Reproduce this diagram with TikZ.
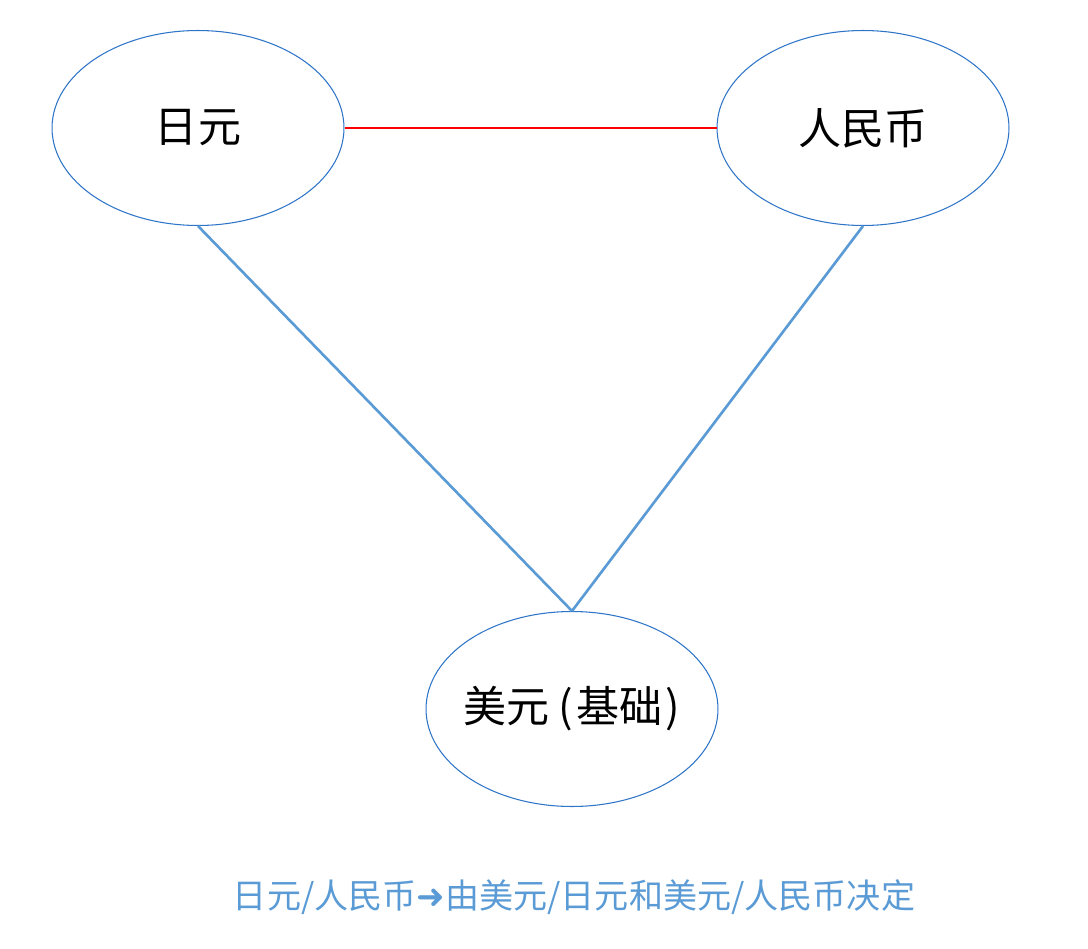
\documentclass[tikz,border=0pt]{standalone}
\usepackage{fontspec}
\newfontfamily\cjk{Noto Sans CJK SC}
\newfontfamily\symb{DejaVu Sans}
\usetikzlibrary{shapes.geometric}
\definecolor{rim}{RGB}{46,117,200}
\definecolor{link}{RGB}{91,155,213}
\tikzset{cur/.style={ellipse,draw=rim,line width=0.6pt,minimum width=5.84cm,minimum height=3.9cm,inner sep=0pt,font=\cjk\fontsize{24.5}{24.5}\selectfont}}

\begin{document}
\begin{tikzpicture}[x=0.02cm,y=-0.02cm]
   \useasboundingbox (0,0) rectangle (1088,949);
   \node[cur] (jpy) at (198,128) {日元};
   \node[cur] (cny) at (863,128) {人民币};
   \node[cur] (usd) at (572,709) {\makebox[4cm]{美元\hspace{5pt}(\hspace{2pt}基础\hspace{2pt})}};
   \draw[red,line width=1.5pt] (jpy.east) -- (cny.west);
   \draw[link,line width=1.5pt] (jpy.south) -- (usd.north);
   \draw[link,line width=1.5pt] (cny.south) -- (usd.north);
   \node[text=link,font=\cjk\fontsize{19.4}{19.4}\selectfont] (note) at (574,897)
      {日元/人民币{\symb ➜}由美元/日元和美元/人民币决定};
\end{tikzpicture}
\end{document}
